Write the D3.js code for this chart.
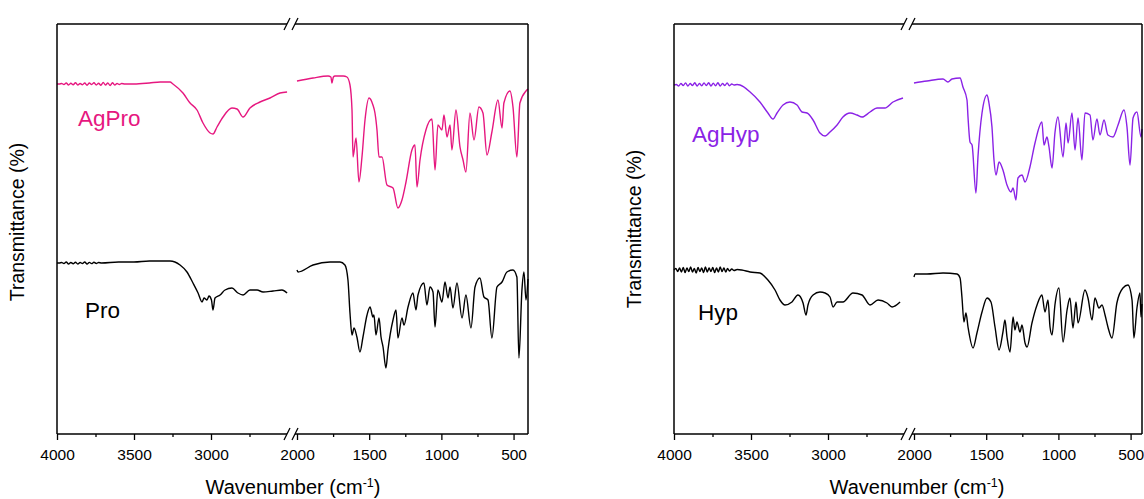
<!DOCTYPE html>
<html><head><meta charset="utf-8">
<script src="https://cdn.jsdelivr.net/npm/d3@7"></script>
<style>
html,body{margin:0;padding:0;background:#fff;}
svg{display:block;font-family:Arial,"Liberation Sans",sans-serif;}
</style></head>
<body>
<svg id="chart" width="1144" height="499"></svg>
<script>
// ---- data (wavenumber cm-1, transmittance a.u.) ----
const majorTicksHigh = [4000, 3500, 3000];
const majorTicksLow = [2000, 1500, 1000, 500];
const minorTicksHigh = [3750, 3250, 2750];
const minorTicksLow = [1750, 1250, 750];
const seriesNames = ["AgPro", "Pro", "AgHyp", "Hyp"];

const agProHigh = [[4000,35.0],[3985,35.0],[3970,35.05],[3955,34.95],[3940,35.1],[3925,34.9],[3910,35.08],[3895,34.92],[3880,35.12],[3865,34.9],[3850,35.05],[3835,34.93],[3820,35.1],[3805,34.88],[3790,35.1],[3775,34.95],[3760,35.12],[3745,34.9],[3730,35.08],[3715,34.88],[3700,35.15],[3685,34.9],[3670,35.1],[3655,34.85],[3640,35.12],[3625,34.9],[3610,35.05],[3595,34.95],[3580,35.05],[3560,35.0],[3500,35.0],[3400,35.1],[3330,35.2],[3266,35.2],[3247,35.0],[3182,34.1],[3136,33.1],[3091,32.4],[3052,31.1],[3006,30.1],[2987,30.0],[2961,30.7],[2922,31.7],[2864,32.6],[2831,32.5],[2792,31.7],[2747,32.6],[2682,33.2],[2617,33.6],[2552,34.1],[2506,34.2]];
const agProLow = [[2000,35.3],[1889,35.6],[1785,35.8],[1765,35.7],[1758,35.1],[1748,35.7],[1737,35.8],[1680,35.8],[1654,35.7],[1633,34.9],[1619,32.4],[1612,27.7],[1591,29.6],[1571,25.2],[1550,27.7],[1529,31.4],[1501,33.6],[1474,32.9],[1460,32.1],[1446,30.4],[1432,27.7],[1411,27.7],[1377,24.9],[1335,24.6],[1301,22.6],[1273,23.4],[1245,25.2],[1204,28.4],[1183,28.9],[1169,24.7],[1148,27.4],[1107,30.4],[1065,31.5],[1044,26.4],[1024,30.9],[996,30.4],[982,31.9],[961,29.7],[940,30.9],[927,28.4],[899,32.4],[871,28.7],[850,27.4],[830,26.2],[802,32.1],[774,29.4],[740,32.7],[712,32.1],[684,27.9],[650,30.2],[608,33.4],[580,30.6],[567,33.1],[525,34.3],[504,32.7],[477,27.7],[456,33.1],[414,34.3],[400,34.5]];

const proHigh = [[4000,17.1],[3985,17.1],[3970,17.15],[3955,17.05],[3940,17.2],[3925,17.0],[3910,17.15],[3895,17.02],[3880,17.18],[3865,17.0],[3850,17.15],[3835,17.05],[3820,17.2],[3805,17.0],[3790,17.16],[3775,17.04],[3760,17.18],[3745,17.05],[3730,17.15],[3710,17.1],[3600,17.2],[3500,17.2],[3400,17.3],[3266,17.3],[3201,16.9],[3156,16.2],[3117,15.1],[3084,14.1],[3058,13.2],[3045,13.6],[3026,13.4],[3013,13.8],[2997,13.4],[2987,12.4],[2974,13.6],[2941,13.9],[2909,14.4],[2864,14.6],[2825,14.1],[2792,13.9],[2747,14.4],[2701,14.4],[2662,14.2],[2597,14.3],[2539,14.4],[2506,14.1]];
const proLow = [[2000,16.4],[1993,16.2],[1889,16.9],[1771,17.2],[1702,17.2],[1668,16.9],[1647,15.4],[1633,12.1],[1619,9.9],[1605,10.6],[1585,9.7],[1564,8.2],[1543,9.7],[1515,11.9],[1494,12.7],[1474,11.7],[1467,11.9],[1453,9.9],[1432,11.6],[1418,9.7],[1404,8.7],[1384,6.6],[1370,8.4],[1335,11.4],[1314,12.4],[1301,9.6],[1273,11.6],[1259,10.9],[1231,12.7],[1197,14.1],[1176,12.4],[1162,13.9],[1121,15.1],[1100,12.9],[1079,14.7],[1058,14.2],[1044,10.7],[1024,14.4],[996,13.2],[975,15.2],[954,13.6],[940,14.7],[920,12.6],[892,15.1],[857,11.6],[830,13.9],[795,10.6],[767,14.7],[733,15.6],[705,13.7],[677,13.4],[650,9.6],[615,14.7],[580,15.2],[546,16.2],[504,16.4],[477,15.7],[463,7.6],[442,14.4],[428,16.2],[414,13.4],[400,15.5]];

const agHypHigh = [[4000,34.9],[3985,34.95],[3970,34.8],[3955,35.05],[3940,34.85],[3925,35.1],[3910,34.8],[3895,35.05],[3880,34.85],[3865,35.12],[3850,34.8],[3835,35.05],[3820,34.82],[3805,35.1],[3790,34.85],[3775,35.12],[3760,34.8],[3745,35.08],[3730,34.82],[3715,35.12],[3700,34.8],[3685,35.05],[3670,34.85],[3655,35.1],[3640,34.82],[3625,35.0],[3610,34.9],[3590,34.95],[3571,34.9],[3506,34.2],[3442,33.2],[3390,32.1],[3357,31.5],[3331,32.1],[3292,32.9],[3247,33.2],[3201,32.9],[3169,32.2],[3136,32.1],[3097,31.4],[3052,30.1],[3019,29.8],[2987,30.2],[2941,30.9],[2903,31.7],[2857,32.1],[2812,31.9],[2779,31.7],[2727,32.2],[2682,32.6],[2630,32.6],[2578,33.2],[2513,33.6]];
const agHypLow = [[2000,35.1],[1910,35.3],[1799,35.5],[1765,35.2],[1737,35.5],[1681,35.6],[1661,34.7],[1633,33.4],[1626,31.7],[1612,29.2],[1598,28.9],[1571,24.1],[1557,27.7],[1529,32.1],[1494,33.9],[1481,33.1],[1460,30.7],[1446,27.4],[1432,25.9],[1411,27.2],[1384,26.4],[1356,24.9],[1328,24.2],[1314,24.6],[1294,23.4],[1280,25.6],[1252,25.9],[1231,25.2],[1197,26.7],[1162,29.1],[1114,31.2],[1100,28.9],[1079,29.7],[1065,28.7],[1044,26.6],[1024,30.1],[1003,31.7],[968,27.7],[947,31.1],[933,29.1],[906,32.1],[885,28.4],[864,31.6],[837,27.4],[816,32.1],[781,31.9],[761,29.4],[733,31.5],[712,29.9],[684,31.4],[657,29.9],[622,29.7],[587,30.9],[546,32.4],[525,30.7],[504,26.9],[483,31.6],[456,32.2],[428,29.7],[421,30.5]];

const hypHigh = [[4000,16.4],[3988,16.55],[3976,16.25],[3964,16.6],[3952,16.2],[3940,16.65],[3928,16.15],[3916,16.6],[3904,16.25],[3892,16.7],[3880,16.2],[3868,16.55],[3856,16.1],[3844,16.65],[3832,16.25],[3820,16.6],[3808,16.15],[3796,16.7],[3784,16.2],[3772,16.6],[3760,16.25],[3748,16.65],[3736,16.15],[3724,16.6],[3712,16.2],[3700,16.7],[3688,16.25],[3676,16.6],[3664,16.2],[3652,16.55],[3640,16.3],[3625,16.5],[3610,16.35],[3590,16.45],[3560,16.4],[3506,16.2],[3442,16.1],[3390,15.4],[3344,14.4],[3312,13.4],[3279,12.9],[3234,13.2],[3195,13.9],[3162,13.1],[3143,11.9],[3130,12.9],[3097,13.9],[3052,14.2],[3019,14.1],[2987,13.7],[2967,12.7],[2941,13.2],[2903,13.2],[2838,14.1],[2779,13.9],[2727,12.9],[2675,13.4],[2617,13.1],[2584,12.7],[2532,13.2]];
const hypLow = [[2000,15.7],[1993,16.0],[1910,16.0],[1799,16.1],[1702,16.0],[1681,15.6],[1668,13.7],[1654,11.2],[1640,12.1],[1626,10.7],[1591,8.6],[1564,10.1],[1529,12.2],[1494,13.6],[1467,13.2],[1439,10.7],[1411,8.4],[1384,10.2],[1370,11.4],[1356,9.7],[1335,8.2],[1314,11.7],[1301,10.4],[1287,11.2],[1266,10.2],[1252,10.9],[1231,9.1],[1217,8.7],[1183,11.1],[1148,12.9],[1114,13.9],[1093,12.2],[1072,13.4],[1058,10.7],[1044,9.9],[1024,12.9],[996,14.6],[968,9.2],[940,12.4],[920,13.6],[899,10.6],[878,13.2],[864,11.1],[816,14.4],[795,13.6],[767,11.4],[747,13.6],[719,12.6],[698,12.9],[677,11.9],[657,10.7],[629,9.6],[595,13.1],[553,14.6],[518,14.9],[490,13.4],[477,9.6],[456,12.6],[435,14.1],[428,11.7],[421,13.0]];

// ---- drawing ----
const svg = d3.select("#chart");
const TOP = 24, BOTTOM = 434;
const y = d3.scaleLinear().domain([0, 41]).range([BOTTOM, TOP]);
const PINK = "#e6177f", PURPLE = "#8a22e6";

const panels = [
  {L: 57, R: 528, lowEnd: 400, titleX: 293, yTitleX: 24, yTitleY: 222,
   top: {name: seriesNames[0], high: agProHigh, low: agProLow, color: PINK, lx: 78, ly: 126},
   bot: {name: seriesNames[1], high: proHigh, low: proLow, color: "#000", lx: 85, ly: 318}},
  {L: 674, R: 1142, lowEnd: 421, titleX: 917, yTitleX: 641, yTitleY: 229,
   top: {name: seriesNames[2], high: agHypHigh, low: agHypLow, color: PURPLE, lx: 692, ly: 142},
   bot: {name: seriesNames[3], high: hypHigh, low: hypLow, color: "#000", lx: 698, ly: 320}}
];

panels.forEach(p => {
  const g = svg.append("g");
  const xHigh = d3.scaleLinear().domain([4000, 2500]).range([p.L, p.L + 231]);
  const xLow = d3.scaleLinear().domain([2000, p.lowEnd]).range([p.L + 240, p.R]);
  const bx1 = p.L + 230, bx2 = p.L + 238;

  // spectra
  [p.top, p.bot].forEach(s => {
    const lineH = d3.line().curve(d3.curveMonotoneX).x(d => xHigh(d[0])).y(d => y(d[1]));
    const lineL = d3.line().curve(d3.curveMonotoneX).x(d => xLow(d[0])).y(d => y(d[1]));
    g.append("path").attr("d", lineH(s.high)).attr("fill", "none")
      .attr("stroke", s.color).attr("stroke-width", 1.4).attr("stroke-linejoin", "round");
    g.append("path").attr("d", lineL(s.low)).attr("fill", "none")
      .attr("stroke", s.color).attr("stroke-width", 1.4).attr("stroke-linejoin", "round");
    g.append("text").attr("x", s.lx).attr("y", s.ly).text(s.name)
      .attr("font-size", 22.5).attr("fill", s.color);
  });

  // axes via d3
  const mk = (scale, vals, size, labels) => {
    const a = d3.axisBottom(scale).tickValues(vals).tickSize(size).tickPadding(9)
      .tickFormat(labels ? d3.format("d") : () => "");
    const ax = g.append("g").attr("transform", `translate(0,${BOTTOM})`).call(a);
    ax.select(".domain").remove();
    ax.selectAll("line").attr("stroke", "#000").attr("stroke-width", 1.3);
    ax.selectAll("text").attr("font-size", 15.5).attr("fill", "#000")
      .attr("font-family", "Arial, 'Liberation Sans', sans-serif");
  };
  mk(xHigh, majorTicksHigh, 6, true);
  mk(xLow, majorTicksLow, 6, true);
  mk(xHigh, minorTicksHigh, 3, false);
  mk(xLow, minorTicksLow, 3, false);

  // frame with breaks
  const fr = g.append("g").attr("stroke", "#000").attr("stroke-width", 1.5).attr("fill", "none");
  [TOP, BOTTOM].forEach(yy => {
    fr.append("line").attr("x1", p.L).attr("x2", bx1).attr("y1", yy).attr("y2", yy);
    fr.append("line").attr("x1", bx2).attr("x2", p.R).attr("y1", yy).attr("y2", yy);
    [bx1, bx2].forEach(bx => fr.append("line")
      .attr("x1", bx - 3).attr("y1", yy + 6).attr("x2", bx + 3).attr("y2", yy - 6).attr("stroke-width", 1.3));
  });
  fr.append("line").attr("x1", p.L).attr("x2", p.L).attr("y1", TOP).attr("y2", BOTTOM);
  fr.append("line").attr("x1", p.R).attr("x2", p.R).attr("y1", TOP).attr("y2", BOTTOM);

  // titles
  const t = g.append("text").attr("x", p.titleX).attr("y", 494).attr("text-anchor", "middle")
    .attr("font-size", 20).attr("fill", "#000");
  t.append("tspan").text("Wavenumber (cm");
  t.append("tspan").text("-1").attr("font-size", 12.5).attr("dy", -7);
  t.append("tspan").text(")").attr("dy", 7);

  g.append("text").attr("transform", `translate(${p.yTitleX},${p.yTitleY}) rotate(-90)`)
    .attr("text-anchor", "middle").attr("font-size", 19.5).attr("fill", "#000")
    .text("Transmittance (%)");
});
</script>
</body></html>
